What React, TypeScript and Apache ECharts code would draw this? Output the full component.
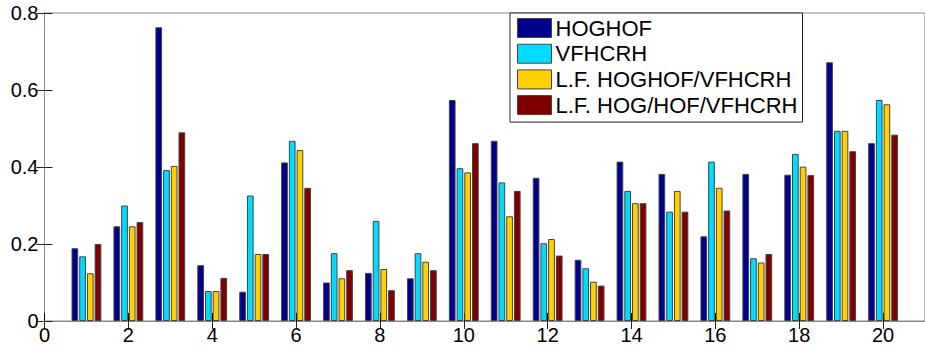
import React, { useEffect, useRef } from "react";
import * as echarts from "echarts";

const groups = [1, 2, 3, 4, 5, 6, 7, 8, 9, 10, 11, 12, 13, 14, 15, 16, 17, 18, 19, 20];
const seriesNames = ["HOGHOF", "VFHCRH", "L.F. HOGHOF/VFHCRH", "L.F. HOG/HOF/VFHCRH"];
const hoghof = [0.189, 0.246, 0.763, 0.145, 0.076, 0.412, 0.1, 0.125, 0.111, 0.574, 0.468, 0.372, 0.159, 0.414, 0.382, 0.22, 0.382, 0.38, 0.672, 0.462];
const vfhcrh = [0.168, 0.3, 0.392, 0.078, 0.326, 0.468, 0.176, 0.26, 0.176, 0.397, 0.36, 0.202, 0.137, 0.338, 0.284, 0.414, 0.163, 0.434, 0.494, 0.574];
const lfHoghofVfhcrh = [0.124, 0.246, 0.403, 0.078, 0.174, 0.444, 0.111, 0.135, 0.154, 0.386, 0.272, 0.213, 0.102, 0.306, 0.338, 0.346, 0.152, 0.401, 0.494, 0.563];
const lfHogHofVfhcrh = [0.2, 0.257, 0.49, 0.112, 0.174, 0.346, 0.132, 0.08, 0.132, 0.462, 0.338, 0.17, 0.092, 0.306, 0.284, 0.287, 0.174, 0.379, 0.441, 0.484];
const colors = ["#00008f", "#00dcff", "#ffd000", "#800000"];

const FONT = "Liberation Sans";

export default function App() {
  const ref = useRef<HTMLDivElement>(null);
  useEffect(() => {
    if (!ref.current) return;
    const chart = echarts.init(ref.current, undefined, { renderer: "svg" });
    const all = [hoghof, vfhcrh, lfHoghofVfhcrh, lfHogHofVfhcrh];
    const xCommon = {
      type: "value" as const,
      min: 0,
      max: 21,
      interval: 2,
      splitLine: { show: false },
    };
    const yCommon = {
      type: "value" as const,
      min: 0,
      max: 0.8,
      interval: 0.2,
      splitLine: { show: false },
    };
    chart.setOption({
      animation: false,
      textStyle: { fontFamily: FONT },
      grid: {
        left: 44.5,
        right: -6,
        top: 13,
        bottom: 29,
        show: true,
        borderColor: "#888",
        borderWidth: 1,
      },
      legend: {
        left: 510,
        top: 13,
        orient: "vertical",
        data: seriesNames,
        itemWidth: 34,
        itemHeight: 19,
        itemGap: 3.7,
        padding: [4, 5, 6, 7],
        borderColor: "#222",
        borderWidth: 1,
        backgroundColor: "#fff",
        icon: "rect",
        itemStyle: { borderColor: "#444", borderWidth: 1 },
        textStyle: { fontSize: 22, fontFamily: FONT, color: "#000", padding: [0, 0, 0, -1] },
        selectedMode: false,
      },
      xAxis: [
        {
          ...xCommon,
          position: "bottom",
          axisLine: { show: true, lineStyle: { color: "#000", width: 1 } },
          axisTick: { show: true, inside: true, length: 8, lineStyle: { color: "#000" } },
          axisLabel: {
            show: true,
            fontSize: 20,
            color: "#000",
            fontFamily: FONT,
            margin: 4,
            showMaxLabel: false,
          },
        },
        {
          ...xCommon,
          position: "top",
          axisLine: { show: true, lineStyle: { color: "#888", width: 1 } },
          axisTick: { show: true, inside: true, length: 8, lineStyle: { color: "#222" } },
          axisLabel: { show: false },
        },
      ],
      yAxis: [
        {
          ...yCommon,
          position: "left",
          axisLine: { show: true, lineStyle: { color: "#777", width: 1 } },
          axisTick: { show: true, inside: true, length: 8, lineStyle: { color: "#222" } },
          axisLabel: { show: true, fontSize: 20, color: "#000", fontFamily: FONT, margin: 6 },
        },
        {
          ...yCommon,
          position: "right",
          axisLine: { show: true, lineStyle: { color: "#888", width: 1 } },
          axisTick: { show: true, inside: true, length: 8, lineStyle: { color: "#222" } },
          axisLabel: { show: false },
        },
      ],
      series: seriesNames.map((name, s) => ({
        name,
        type: "bar",
        xAxisIndex: 0,
        yAxisIndex: 0,
        barWidth: 6.7,
        barGap: "15%",
        itemStyle: { color: colors[s], borderColor: "#444", borderWidth: 1 },
        data: groups.map((g, i) => [g, all[s][i]]),
      })),
    });
    return () => chart.dispose();
  }, []);
  return (
    <div
      ref={ref}
      style={{ position: "absolute", left: 0, top: 0, width: 925, height: 350, background: "#fff" }}
    />
  );
}
